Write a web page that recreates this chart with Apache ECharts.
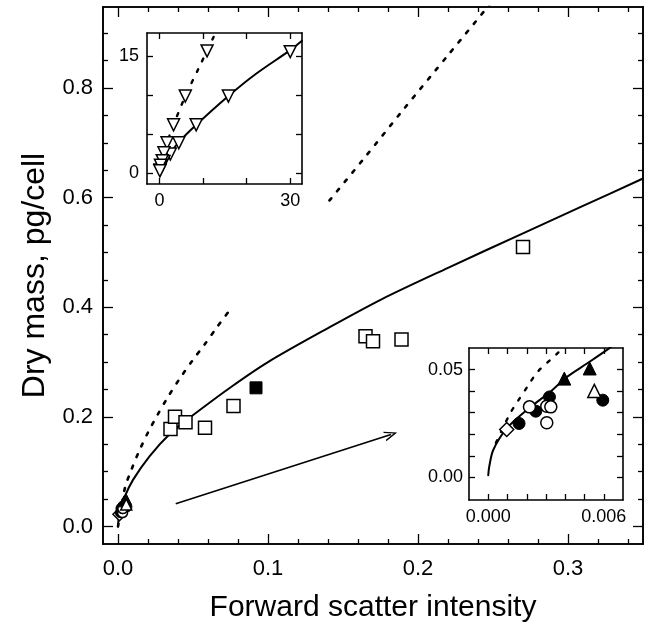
<!DOCTYPE html>
<html><head><meta charset="utf-8">
<script src="https://cdn.jsdelivr.net/npm/echarts@6/dist/echarts.min.js"></script>
<style>html,body{margin:0;padding:0;background:#fff}#c{width:654px;height:628px}</style>
</head><body><div id="c"></div>
<script>
// ---------- main plot ticks ----------
const mainXLabels = [0, 0.1, 0.2, 0.3];
const mainXMinor = [0.02,0.04,0.06,0.08,0.12,0.14,0.16,0.18,0.22,0.24,0.26,0.28,0.32,0.34];
const mainYLabels = [0, 0.2, 0.4, 0.6, 0.8];
const mainYMinor = [0.05,0.1,0.15,0.25,0.3,0.35,0.45,0.5,0.55,0.65,0.7,0.75,0.85,0.9];

// ---------- main plot curves ----------
const solidX = [0, 0.001, 0.0046, 0.010, 0.021, 0.035, 0.049, 0.0756, 0.10, 0.14, 0.176, 0.22, 0.27, 0.31, 0.35];
const solidY = [0, 0.025, 0.055, 0.085, 0.128, 0.17, 0.201, 0.255, 0.30, 0.362, 0.415, 0.472, 0.535, 0.585, 0.635];
// dotted curve: lower piece, gap (null), upper piece
const dotX = [0, 0.0046, 0.009, 0.014, 0.0199, 0.0264, 0.033, 0.0407, 0.0494, 0.0577, 0.0658, 0.0756, null, 0.141, 0.165, 0.19, 0.22, 0.25];
const dotY = [0, 0.07, 0.104, 0.137, 0.171, 0.204, 0.235, 0.268, 0.302, 0.332, 0.363, 0.399, null, 0.595, 0.675, 0.76, 0.86, 0.96];

// ---------- main plot squares ----------
const openSqX = [0.035, 0.038, 0.045, 0.058, 0.077, 0.165, 0.17, 0.189, 0.27];
const openSqY = [0.178, 0.20, 0.19, 0.18, 0.22, 0.347, 0.338, 0.341, 0.51];
const filledSqX = [0.092];
const filledSqY = [0.253];

// arrow
const arrowFrom = [0.0385, 0.0415];
const arrowTo = [0.182, 0.168];

// ---------- small-cell points (main cluster & lower-right inset) ----------
const openDiaX = [0.00096];
const openDiaY = [0.0222];
const filledCircX = [0.0016, 0.00247, 0.00318, 0.00595];
const filledCircY = [0.025, 0.0307, 0.0373, 0.0358];
const openCircX = [0.00214, 0.00304, 0.00304, 0.00325];
const openCircY = [0.0327, 0.0253, 0.033, 0.0327];
const filledTriX = [0.00395, 0.00527];
const filledTriY = [0.0458, 0.0505];
const openTriX = [0.00551];
const openTriY = [0.0401];

// ---------- upper-left inset ----------
const in1XTicks = [0, 10, 20, 30];
const in1XLabels = [0, 30];
const in1YTicks = [0, 5, 10, 15];
const in1YLabels = [0, 15];
const in1SolidX = [0, 0.3, 1.0, 2.45, 4.36, 8.42, 15.8, 22, 30, 32.7];
const in1SolidY = [0, 0.8, 1.6, 2.6, 3.95, 6.2, 9.9, 12.7, 15.8, 17.0];
const in1DotX = [0, 0.5, 1.0, 1.7, 3.2, 5.9, 9.0, 12.4];
const in1DotY = [0, 1.5, 2.4, 3.9, 6.2, 9.9, 13.5, 17.5];
const in1TriAX = [30, 15.8, 8.4, 4.4, 2.45, 1.0, 0.4, 0.1];
const in1TriAY = [15.6, 9.9, 6.2, 3.9, 2.45, 1.5, 0.9, 0.4];
const in1TriBX = [10.9, 5.9, 3.2, 1.7, 1.0, 0.6, 0.2, 0.05];
const in1TriBY = [15.7, 9.9, 6.2, 3.9, 2.6, 1.6, 1.0, 0.3];

// ---------- lower-right inset ----------
const in2XTicks = [0, 0.001, 0.002, 0.003, 0.004, 0.005, 0.006];
const in2XLabels = [0, 0.006];
const in2YTicks = [0, 0.01, 0.02, 0.03, 0.04, 0.05];
const in2YLabels = [0, 0.05];
const in2SolidX = [0, 0.00005, 0.00026, 0.00096, 0.002, 0.00322, 0.00409, 0.00513, 0.00626, 0.0065];
const in2SolidY = [0.001, 0.0049, 0.0127, 0.0227, 0.0312, 0.0397, 0.0466, 0.0528, 0.0597, 0.0615];
const in2DotX = [0.0004, 0.00113, 0.00157, 0.00203, 0.00256, 0.00365, 0.0039];
const in2DotY = [0.016, 0.0296, 0.0358, 0.042, 0.0489, 0.058, 0.061];

const zip = (xs, ys) => xs.map((x, i) => (x === null ? [null, null] : [x, ys[i]]));
const FONT = 'Liberation Sans';

function axis(gridIndex, pos, min, max, ticks, len, labels, fmt, fontSize, margin, z) {
  return {
    type: 'value', gridIndex, position: pos, min, max, z: z || 0,
    axisLine: { show: true, onZero: false, lineStyle: { color: '#000', width: 1.6 } },
    axisTick: { show: true, inside: true, length: len, customValues: ticks, lineStyle: { color: '#000', width: 1.3 } },
    splitLine: { show: false },
    axisLabel: labels ? { show: true, customValues: labels, formatter: fmt, color: '#000', fontFamily: FONT, fontSize, margin } : { show: false }
  };
}

const openStyle = { color: '#fff', borderColor: '#000', borderWidth: 1.5, opacity: 1 };
const fillStyle = { color: '#000', borderColor: '#000', borderWidth: 1, opacity: 1 };

function scat(xi, yi, data, symbol, size, style, rot, z) {
  return { type: 'scatter', xAxisIndex: xi, yAxisIndex: yi, data, symbol, symbolSize: size,
    symbolRotate: rot || 0, itemStyle: style, z: z || 5, silent: true };
}
function line(xi, yi, data, dotted, width, z) {
  return { type: 'line', xAxisIndex: xi, yAxisIndex: yi, data, showSymbol: false, symbol: 'none', smooth: 0.3,
    connectNulls: false,
    lineStyle: { color: '#000', width: width, type: dotted ? [3, 9] : 'solid', cap: 'round' }, z: z || 3, silent: true };
}

const option = {
  animation: false,
  backgroundColor: '#fff',
  grid: [
    { left: 103, top: 7, width: 540, height: 537, show: false },
    { left: 147, top: 33, width: 155, height: 151, show: true, backgroundColor: '#fff', borderWidth: 0, z: 4 },
    { left: 469, top: 348, width: 154, height: 152, show: true, backgroundColor: '#fff', borderWidth: 0, z: 4 }
  ],
  xAxis: [
    Object.assign(axis(0, 'bottom', -0.01, 0.35, mainXLabels, 10, mainXLabels, v => v.toFixed(1), 22, 14),
      { name: 'Forward scatter intensity', nameLocation: 'middle', nameGap: 49,
        nameTextStyle: { fontFamily: FONT, fontSize: 30, color: '#000' } }),
    axis(0, 'bottom', -0.01, 0.35, mainXMinor, 5),
    axis(0, 'top', -0.01, 0.35, mainXLabels, 10),
    axis(0, 'top', -0.01, 0.35, mainXMinor, 5),
    axis(1, 'bottom', -2.9, 32.7, in1XTicks, 6, in1XLabels, v => String(v), 18, 8, 10),
    axis(1, 'top', -2.9, 32.7, in1XTicks, 6, null, null, 0, 0, 10),
    axis(2, 'bottom', -0.001, 0.007, in2XTicks, 6, in2XLabels, v => v.toFixed(3), 18, 8, 10),
    axis(2, 'top', -0.001, 0.007, in2XTicks, 6, null, null, 0, 0, 10)
  ],
  yAxis: [
    Object.assign(axis(0, 'left', -0.032, 0.948, mainYLabels, 10, mainYLabels, v => v.toFixed(1), 22, 10),
      { name: 'Dry mass, pg/cell', nameLocation: 'middle', nameGap: 45,
        nameTextStyle: { fontFamily: FONT, fontSize: 32, color: '#000' } }),
    axis(0, 'left', -0.032, 0.948, mainYMinor, 5),
    axis(0, 'right', -0.032, 0.948, mainYLabels, 10),
    axis(0, 'right', -0.032, 0.948, mainYMinor, 5),
    axis(1, 'left', -1.4, 18, in1YTicks, 6, in1YLabels, v => String(v), 18, 8, 10),
    axis(1, 'right', -1.4, 18, in1YTicks, 6, null, null, 0, 0, 10),
    axis(2, 'left', -0.0105, 0.06, in2YTicks, 6, in2YLabels, v => v.toFixed(2), 18, 6, 10),
    axis(2, 'right', -0.0105, 0.06, in2YTicks, 6, null, null, 0, 0, 10)
  ],
  series: [
    line(0, 0, zip(dotX, dotY), true, 2.6),
    line(0, 0, zip(solidX, solidY), false, 2),
    Object.assign(scat(0, 0, zip(openSqX, openSqY), 'rect', 13, openStyle), {
      markLine: {
        silent: true, animation: false,
        symbol: ['none', 'path://M0,0 L4.6,12 L3.3,12 L0,3.4 L-3.3,12 L-4.6,12 Z'], symbolSize: [10, 13],
        label: { show: false },
        lineStyle: { color: '#000', width: 1.6, type: 'solid', opacity: 1 },
        data: [[{ coord: arrowFrom }, { coord: arrowTo }]]
      }
    }),
    scat(0, 0, zip(filledSqX, filledSqY), 'rect', 12, fillStyle),
    scat(0, 0, zip(openDiaX, openDiaY), 'diamond', 13, openStyle),
    scat(0, 0, zip(filledCircX, filledCircY), 'circle', 10, fillStyle),
    scat(0, 0, zip(openCircX, openCircY), 'circle', 10, openStyle),
    scat(0, 0, zip(filledTriX, filledTriY), 'triangle', 11, fillStyle),
    scat(0, 0, zip(openTriX, openTriY), 'triangle', 11, openStyle),

    line(4, 4, zip(in1DotX, in1DotY), true, 2.4, 11),
    line(4, 4, zip(in1SolidX, in1SolidY), false, 2, 11),
    scat(4, 4, zip(in1TriAX, in1TriAY), 'triangle', 12, openStyle, 180, 12),
    scat(4, 4, zip(in1TriBX, in1TriBY), 'triangle', 12, openStyle, 180, 12),

    line(6, 6, zip(in2DotX, in2DotY), true, 2.4, 11),
    line(6, 6, zip(in2SolidX, in2SolidY), false, 2, 11),
    scat(6, 6, zip(openDiaX, openDiaY), 'diamond', 14, openStyle, 0, 12),
    scat(6, 6, zip(filledCircX, filledCircY), 'circle', 12, fillStyle, 0, 12),
    scat(6, 6, zip(openCircX, openCircY), 'circle', 12, openStyle, 0, 12),
    scat(6, 6, zip(filledTriX, filledTriY), 'triangle', 13, fillStyle, 0, 12),
    scat(6, 6, zip(openTriX, openTriY), 'triangle', 13, openStyle, 0, 12)
  ]
};

const chart = echarts.init(document.getElementById('c'), null, { renderer: 'canvas' });
chart.setOption(option);
</script>
</body></html>
